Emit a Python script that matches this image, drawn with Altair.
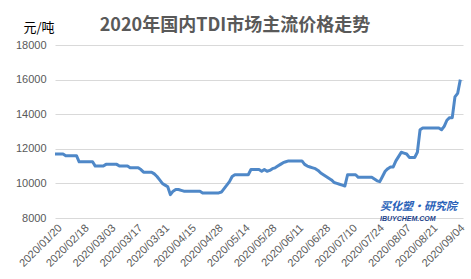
import altair as alt
import pandas as pd

# Tick labels (every 10th point)
tick_labels = ["2020/01/20", "2020/02/18", "2020/03/03", "2020/03/17", "2020/03/31",
               "2020/04/15", "2020/04/28", "2020/05/14", "2020/05/28", "2020/06/11",
               "2020/06/28", "2020/07/10", "2020/07/24", "2020/08/07", "2020/08/21",
               "2020/09/04"]

# Price series (元/吨)
prices = [11700, 11700, 11700, 11700,
          11600, 11600, 11600, 11600, 11600,
          11250, 11250, 11250, 11250, 11250, 11250,
          11000, 11000, 11000, 11000,
          11100, 11100, 11100, 11100, 11100,
          11000, 11000, 11000, 11000,
          10900, 10900, 10900, 10900,
          10800,
          10650, 10650, 10650, 10650,
          10550, 10400, 10200, 10000, 9900, 9800, 9350, 9550,
          9650, 9650,
          9600,
          9550, 9550, 9550, 9550, 9550, 9550, 9550,
          9450, 9450, 9450, 9450, 9450, 9450, 9450,
          9500, 9700, 9900, 10100, 10400,
          10500, 10500, 10500, 10500, 10500, 10500,
          10800, 10800, 10800, 10800,
          10700, 10800, 10700, 10750, 10850, 10900, 11000, 11100, 11200, 11250,
          11300, 11300, 11300, 11300, 11300, 11300,
          11100, 11000, 10950, 10900, 10850, 10750, 10600, 10500, 10400, 10300,
          10200, 10050, 10000, 9950, 9900, 9850,
          10500, 10500, 10500, 10500,
          10350, 10350, 10350, 10350, 10350, 10350,
          10250, 10150, 10100, 10400, 10700, 10850,
          10950, 10950,
          11300, 11550, 11800, 11750, 11700,
          11500, 11500, 11500,
          11800, 13100,
          13200, 13200, 13200, 13200, 13200, 13200, 13200,
          13100, 13300, 13650, 13800, 13800, 15000, 15200, 16000]

y_ticks = [8000, 10000, 12000, 14000, 16000, 18000]

df = pd.DataFrame({"idx": list(range(len(prices))), "price": prices})

label_js = "[" + ",".join("'" + s + "'" for s in tick_labels) + "]"

line = alt.Chart(df).mark_line(color="#4f88c8", strokeWidth=3, strokeJoin="round").encode(
    x=alt.X("idx:Q",
            scale=alt.Scale(domain=[0, 152], nice=False, zero=False),
            axis=alt.Axis(values=[i * 10 for i in range(len(tick_labels))],
                          labelExpr=label_js + "[round(datum.value/10)]",
                          labelAngle=-45, labelAlign="right", labelBaseline="middle",
                          labelFontSize=11, labelColor="#595959", labelFont="Liberation Sans",
                          labelPadding=8, labelOffset=5,
                          ticks=False, domain=False, grid=False, title=None,
                          labelOverlap=False)),
    y=alt.Y("price:Q",
            scale=alt.Scale(domain=[8000, 18000], nice=False, zero=False),
            axis=alt.Axis(values=y_ticks, format="d", labelFontSize=11, labelColor="#595959",
                          labelFont="Liberation Sans", labelPadding=9,
                          ticks=False, domain=False, grid=True,
                          gridColor="#d9d9d9", gridWidth=1,
                          title="元/吨", titleAngle=0, titleAlign="left",
                          titleBaseline="middle", titleX=-32, titleY=-18,
                          titleFont="Noto Sans CJK SC", titleFontSize=13,
                          titleFontWeight="normal", titleColor="#000000"))
)

logo_df = pd.DataFrame({"t": ["买化塑·研究院"]})
logo = alt.Chart(logo_df).mark_text(
    align="left", baseline="middle", font="Noto Sans CJK SC", fontSize=11,
    fontWeight="bold", fontStyle="italic", color="#2a62b8"
).encode(x=alt.value(325), y=alt.value(162), text="t:N")

logo2_df = pd.DataFrame({"t": ["IBUYCHEM.COM"]})
logo2 = alt.Chart(logo2_df).mark_text(
    align="left", baseline="middle", font="Liberation Sans", fontSize=7,
    fontWeight="bold", fontStyle="italic", color="#1d3f8a"
).encode(x=alt.value(325), y=alt.value(174), text="t:N")

chart = alt.layer(line, logo, logo2).properties(
    width=408, height=173,
    title=alt.TitleParams("2020年国内TDI市场主流价格走势", fontSize=18, fontWeight="bold",
                          color="#595959", font="Noto Sans CJK SC", anchor="middle",
                          dx=-24, dy=24, offset=10),
    autosize=alt.AutoSizeParams(type="none"),
    padding={"left": 55, "top": 45, "right": 8, "bottom": 61},
    background="white"
).configure_view(stroke=None)

chart.save("out.html", embed_options={"renderer": "svg", "actions": False})
